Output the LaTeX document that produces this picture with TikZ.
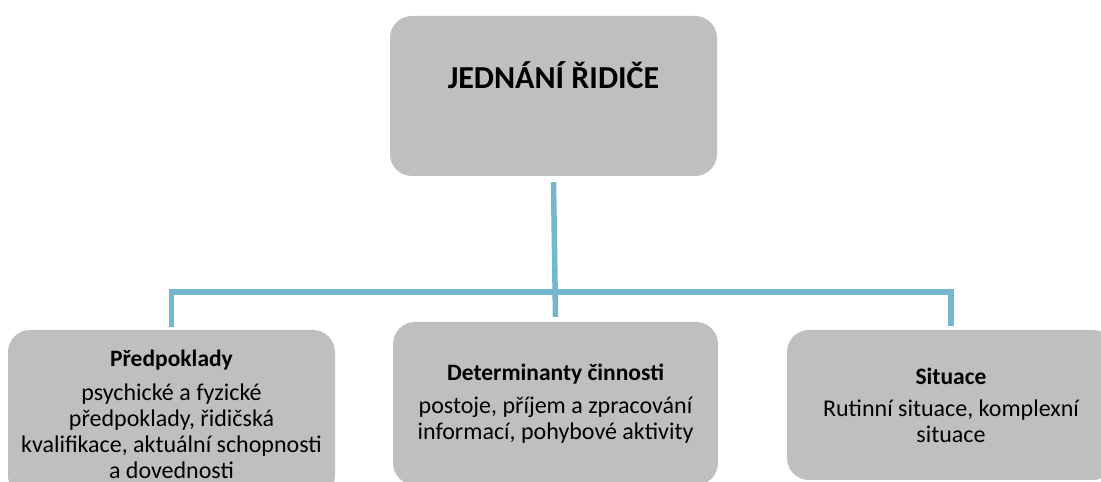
\documentclass[tikz,border=0pt]{standalone}
\usepackage{fontspec}
\setmainfont{Carlito}
\definecolor{boxgray}{RGB}{191,191,191}
\definecolor{connblue}{RGB}{117,183,206}
\newcommand{\headfont}{\fontsize{23.5}{26}\selectfont\bfseries}
\begin{document}
\begin{tikzpicture}[x=1pt,y=1pt,
  box/.style={fill=boxgray, rounded corners=22pt, inner sep=0pt, align=center,
    font=\fontsize{24}{26}\selectfont},
  connline/.style={draw=connblue, line width=5.5pt}]
\useasboundingbox (0,0) rectangle (1101,482);
\clip (0,0) rectangle (1101,482);
% boxes
\node[box, minimum width=327pt, minimum height=160pt] (top) at (553.5,386) {};
\node[font=\fontsize{32}{36}\selectfont\bfseries] (title) at (553.5,407) {JEDNÁNÍ ŘIDIČE};
\node[box, minimum width=327pt, minimum height=168pt] (pre) at (171.5,68)
  {{\headfont Předpoklady}\\[8pt]psychické a fyzické\\předpoklady, řidičská\\kvalifikace, aktuální schopnosti\\a dovednosti};
\node[box, minimum width=325pt, minimum height=163pt] (mid) at (555.5,78.5)
  {{\headfont Determinanty činnosti}\\[7pt]postoje, příjem a zpracování\\informací, pohybové aktivity};
\node[box, minimum width=328pt, minimum height=150pt] (sit) at (951,77)
  {{\headfont Situace}\\[6pt]Rutinní situace, komplexní\\situace};
% connectors
\coordinate (j) at (555,190);
\draw[connline] ([yshift=-6pt]top.south) -- ([yshift=5pt]mid.north);
\draw[connline] ([yshift=3pt]pre.north) |- (j) -| ([yshift=4pt]sit.north);
\end{tikzpicture}
\end{document}
